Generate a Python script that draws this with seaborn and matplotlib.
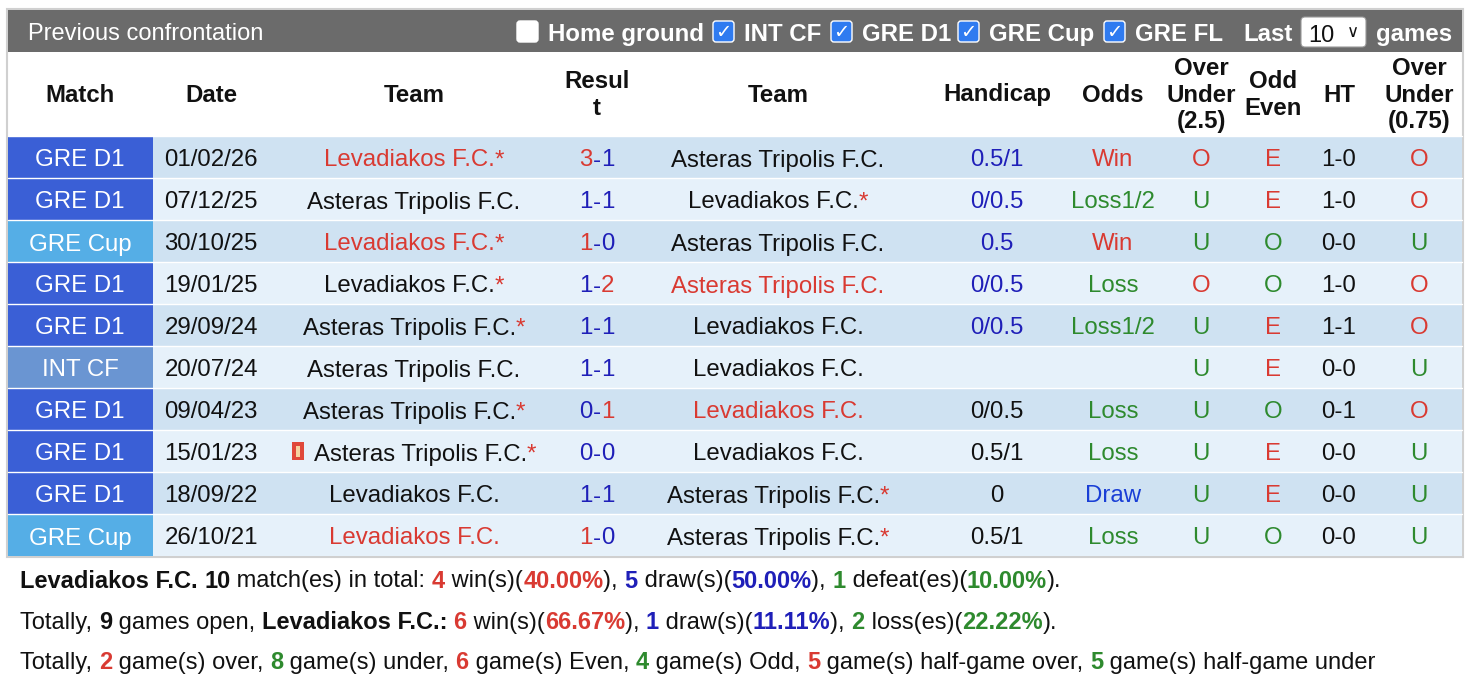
import matplotlib
matplotlib.use("Agg")
import matplotlib.pyplot as plt
import seaborn as sns
from matplotlib.patches import Rectangle, FancyBboxPatch

sns.set_theme(style="white")
plt.rcParams["font.family"] = ["Liberation Sans", "DejaVu Sans"]

RED = "#d93a32"
BLUE = "#1f1fb8"
GREEN = "#2e8a2e"
BLACK = "#111111"

leagues = ["GRE D1", "GRE D1", "GRE Cup", "GRE D1", "GRE D1", "INT CF", "GRE D1", "GRE D1", "GRE D1", "GRE Cup"]
dates = ["01/02/26", "07/12/25", "30/10/25", "19/01/25", "29/09/24", "20/07/24", "09/04/23", "15/01/23", "18/09/22", "26/10/21"]
home_teams = ["Levadiakos F.C.", "Asteras Tripolis F.C.", "Levadiakos F.C.", "Levadiakos F.C.", "Asteras Tripolis F.C.",
              "Asteras Tripolis F.C.", "Asteras Tripolis F.C.", "Asteras Tripolis F.C.", "Levadiakos F.C.", "Levadiakos F.C."]
away_teams = ["Asteras Tripolis F.C.", "Levadiakos F.C.", "Asteras Tripolis F.C.", "Asteras Tripolis F.C.", "Levadiakos F.C.",
              "Levadiakos F.C.", "Levadiakos F.C.", "Levadiakos F.C.", "Asteras Tripolis F.C.", "Asteras Tripolis F.C."]
home_star = [1, 0, 1, 1, 1, 0, 1, 1, 0, 0]
away_star = [0, 1, 0, 0, 0, 0, 0, 0, 1, 1]
home_goals = [3, 1, 1, 1, 1, 1, 0, 0, 1, 1]
away_goals = [1, 1, 0, 2, 1, 1, 1, 0, 1, 0]
handicaps = ["0.5/1", "0/0.5", "0.5", "0/0.5", "0/0.5", "", "0/0.5", "0.5/1", "0", "0.5/1"]
handicap_blue = [1, 1, 1, 1, 1, 0, 0, 0, 0, 0]
odds = ["Win", "Loss1/2", "Win", "Loss", "Loss1/2", "", "Loss", "Loss", "Draw", "Loss"]
over_under = ["O", "U", "U", "O", "U", "U", "U", "U", "U", "U"]
odd_even = ["E", "E", "O", "O", "E", "E", "O", "E", "E", "O"]
half_time = ["1-0", "1-0", "0-0", "1-0", "1-1", "0-0", "0-1", "0-0", "0-0", "0-0"]
over_under_ht = ["O", "O", "U", "O", "O", "U", "O", "U", "U", "U"]
red_card_row = 7

league_colors = {"GRE D1": "#3a5fd6", "GRE Cup": "#55aee6", "INT CF": "#6a95d2"}
odds_colors = {"Win": RED, "Loss": GREEN, "Loss1/2": GREEN, "Draw": "#1a3fd6", "": BLACK}

W, H = 1468, 690
fig = plt.figure(figsize=(W / 100, H / 100), dpi=100)
ax = fig.add_axes([0, 0, 1, 1])
ax.set_xlim(0, W)
ax.set_ylim(H, 0)
ax.axis("off")
fig.canvas.draw()
renderer = fig.canvas.get_renderer()
inv = ax.transData.inverted()

FS = 17.3
VA = "center_baseline"


def raw_width(s, size, bold):
    t = ax.text(0, -100, s, fontsize=size, fontweight="bold" if bold else "normal")
    bb = t.get_window_extent(renderer)
    t.remove()
    a = inv.transform((bb.x0, bb.y0))
    b = inv.transform((bb.x1, bb.y1))
    return b[0] - a[0]


def advance(s, size, bold):
    # include trailing spaces by measuring between two bars
    return raw_width("|" + s + "|", size, bold) - raw_width("||", size, bold)


def runs(x, y, parts, size=FS, ha="left"):
    # draw a sequence of (text, colour, bold) pieces side by side
    if ha == "center":
        x = x - sum(advance(s, size, b) for s, c, b in parts) / 2
    for s, c, b in parts:
        ax.text(x, y, s, fontsize=size, color=c, fontweight="bold" if b else "normal", va=VA, ha="left")
        x += advance(s, size, b)
    return x


# table frame
ax.add_patch(Rectangle((7, 9), 1456, 548, facecolor="white", edgecolor="#d0d0d0", lw=1.5))
ax.add_patch(Rectangle((8, 10), 1454, 42, facecolor="#6b6b6b", lw=0))
ax.text(28, 32, "Previous confrontation", fontsize=17, color="white", va=VA)

# filter checkboxes
checks = [(517, "Home ground", False), (713, "INT CF", True), (831, "GRE D1", True), (958, "GRE Cup", True), (1104, "GRE FL", True)]
for cx, lab, on in checks:
    ax.add_patch(FancyBboxPatch((cx, 21), 21, 21, boxstyle="round,pad=0,rounding_size=3",
                                facecolor="#2f7bf0" if on else "white", edgecolor="white", lw=1))
    if on:
        ax.text(cx + 10.5, 32, "✓", fontsize=14, color="white", ha="center", va="center", fontweight="bold",
                family="DejaVu Sans")
    ax.text(cx + 31, 32, lab, fontsize=17.3, color="white", va=VA, fontweight="bold")
ax.text(1243, 32, "Last", fontsize=17.3, color="white", va=VA, fontweight="bold")
ax.add_patch(FancyBboxPatch((1301, 17), 65, 30, boxstyle="round,pad=0,rounding_size=4",
                            facecolor="white", edgecolor="#999999", lw=0.8))
ax.text(1308, 33, "10", fontsize=17, color=BLACK, va=VA)
ax.text(1353, 32, "∨", fontsize=12, color=BLACK, va="center", ha="center", family="DejaVu Sans")
ax.text(1376, 32, "games", fontsize=17.3, color="white", va=VA, fontweight="bold")

# column headers
col_x = [80, 211, 414, 597, 778, 997, 1113, 1201, 1273, 1339, 1419]
headers = ["Match", "Date", "Team", "Resul\nt", "Team", "Handicap", "Odds", "Over\nUnder\n(2.5)", "Odd\nEven", "HT",
           "Over\nUnder\n(0.75)"]
for x, h in zip(col_x, headers):
    ax.text(x, 95, h, fontsize=17.3, fontweight="bold", ha="center", va="center", color=BLACK, linespacing=1.2)

# rows
top, rh = 136, 42
for i in range(len(leagues)):
    y0 = top + i * rh
    yc = y0 + rh / 2 + 1
    ax.add_patch(Rectangle((8, y0), 1454, rh, facecolor="#cfe2f2" if i % 2 == 0 else "#e6f1fa", lw=0))
    ax.add_patch(Rectangle((8, y0), 145, rh, facecolor=league_colors[leagues[i]], lw=0))
    ax.plot([8, 1462], [y0, y0], color="white", lw=1)
    ax.text(col_x[0], yc, leagues[i], fontsize=FS, color="white", ha="center", va=VA)
    ax.text(col_x[1], yc, dates[i], fontsize=FS, color=BLACK, ha="center", va=VA)

    hw = home_goals[i] > away_goals[i]
    aw = away_goals[i] > home_goals[i]
    hp = [(home_teams[i], RED if hw else BLACK, False)]
    if home_star[i]:
        hp.append(("*", RED, False))
    if i == red_card_row:
        ax.add_patch(Rectangle((292, yc - 10), 12, 18, facecolor="#e0483a", lw=0))
        ax.add_patch(Rectangle((296, yc - 6), 4, 11, facecolor="#f6d3a0", lw=0))
        runs(col_x[2] + 11, yc, hp, ha="center")
    else:
        runs(col_x[2], yc, hp, ha="center")
    ap = [(away_teams[i], RED if aw else BLACK, False)]
    if away_star[i]:
        ap.append(("*", RED, False))
    runs(col_x[4], yc, ap, ha="center")

    runs(col_x[3], yc, [(str(home_goals[i]), RED if hw else BLUE, False), ("-", BLUE, False),
                         (str(away_goals[i]), RED if aw else BLUE, False)], ha="center")
    ax.text(col_x[5], yc, handicaps[i], fontsize=FS, color=BLUE if handicap_blue[i] else BLACK, ha="center", va=VA)
    ax.text(col_x[6], yc, odds[i], fontsize=FS, color=odds_colors[odds[i]], ha="center", va=VA)
    ax.text(col_x[7], yc, over_under[i], fontsize=FS, color=RED if over_under[i] == "O" else GREEN, ha="center", va=VA)
    ax.text(col_x[8], yc, odd_even[i], fontsize=FS, color=RED if odd_even[i] == "E" else GREEN, ha="center", va=VA)
    ax.text(col_x[9], yc, half_time[i], fontsize=FS, color=BLACK, ha="center", va=VA)
    ax.text(col_x[10], yc, over_under_ht[i], fontsize=FS, color=RED if over_under_ht[i] == "O" else GREEN,
            ha="center", va=VA)

# summary lines
SS = 17
runs(20, 579, [("Levadiakos F.C.", BLACK, True), (" ", BLACK, False), ("10", BLACK, True),
               (" match(es) in total: ", BLACK, False), ("4", RED, True), (" win(s)(", BLACK, False),
               ("40.00%", RED, True), ("), ", BLACK, False), ("5", BLUE, True), (" draw(s)(", BLACK, False),
               ("50.00%", BLUE, True), ("), ", BLACK, False), ("1", GREEN, True), (" defeat(es)(", BLACK, False),
               ("10.00%", GREEN, True), (").", BLACK, False)], size=SS)
runs(20, 620, [("Totally, ", BLACK, False), ("9", BLACK, True), (" games open, ", BLACK, False),
               ("Levadiakos F.C.:", BLACK, True), (" ", BLACK, False), ("6", RED, True), (" win(s)(", BLACK, False),
               ("66.67%", RED, True), ("), ", BLACK, False), ("1", BLUE, True), (" draw(s)(", BLACK, False),
               ("11.11%", BLUE, True), ("), ", BLACK, False), ("2", GREEN, True), (" loss(es)(", BLACK, False),
               ("22.22%", GREEN, True), (").", BLACK, False)], size=SS)
runs(20, 660, [("Totally, ", BLACK, False), ("2", RED, True), (" game(s) over, ", BLACK, False),
               ("8", GREEN, True), (" game(s) under, ", BLACK, False), ("6", RED, True),
               (" game(s) Even, ", BLACK, False), ("4", GREEN, True), (" game(s) Odd, ", BLACK, False),
               ("5", RED, True), (" game(s) half-game over, ", BLACK, False), ("5", GREEN, True),
               (" game(s) half-game under", BLACK, False)], size=SS)

fig.savefig("out.png", dpi=100)
